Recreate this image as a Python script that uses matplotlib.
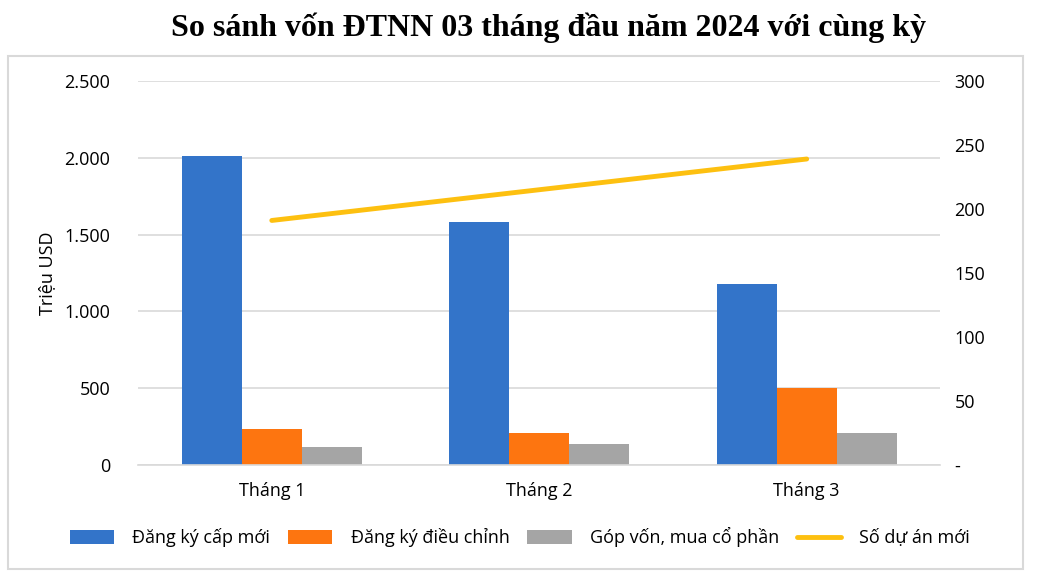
import matplotlib.pyplot as plt
from matplotlib.patches import Rectangle
from matplotlib.ticker import FuncFormatter
import numpy as np

plt.rcParams['font.family'] = ['Open Sans', 'DejaVu Sans']

months = ["Tháng 1", "Tháng 2", "Tháng 3"]
dang_ky_moi = [2010, 1580, 1178]
dieu_chinh = [234, 208, 500]
gop_von = [117, 137, 208]
so_du_an = [191, 215, 239]

fig = plt.figure(figsize=(10.38, 5.82), dpi=100)
ax = fig.add_axes([0.133, 0.201, 0.773, 0.660])

x = np.arange(len(months))
w = 0.224
ax.bar(x - w, dang_ky_moi, w, color="#3374c9", label="Đăng ký cấp mới", zorder=2)
ax.bar(x, dieu_chinh, w, color="#fd7510", label="Đăng ký điều chỉnh", zorder=2)
ax.bar(x + w, gop_von, w, color="#a5a5a5", label="Góp vốn, mua cổ phần", zorder=2)

ax.set_xlim(-0.5, 2.5)
ax.set_ylim(0, 2500)
ax.set_yticks(range(0, 2501, 500))
ax.yaxis.set_major_formatter(FuncFormatter(lambda v, p: f"{int(v):,}".replace(",", ".")))
ax.set_xticks(x)
ax.set_xticklabels(months)
ax.grid(axis="y", color="#d9d9d9", linewidth=1.2, zorder=0)
for s in ["top", "left", "right"]:
    ax.spines[s].set_visible(False)
ax.spines["bottom"].set_color("#d9d9d9")
ax.spines["bottom"].set_linewidth(1.2)
ax.tick_params(length=0, labelsize=13, pad=12)
ax.tick_params(axis="y", pad=20)
ax.set_ylabel("Triệu USD", fontsize=13, labelpad=6)

ax2 = ax.twinx()
ax2.plot(x, so_du_an, color="#fdc010", linewidth=3.5, label="Số dự án mới", solid_capstyle="round")
ax2.set_ylim(0, 300)
ax2.set_yticks(range(0, 301, 50))
ax2.yaxis.set_major_formatter(FuncFormatter(lambda v, p: "-" if v == 0 else f"{int(v)}"))
ax2.tick_params(length=0, labelsize=13, pad=10)
for s in ["top", "left", "right", "bottom"]:
    ax2.spines[s].set_visible(False)

h1, l1 = ax.get_legend_handles_labels()
h2, l2 = ax2.get_legend_handles_labels()
fig.legend(h1 + h2, l1 + l2, loc="center", bbox_to_anchor=(0.501, 0.077), ncol=4,
           frameon=False, fontsize=13, handlelength=2.45, handleheight=0.8,
           columnspacing=1.0, handletextpad=1.0)

fig.text(0.528, 0.952, "So sánh vốn ĐTNN 03 tháng đầu năm 2024 với cùng kỳ",
         ha="center", va="center", fontsize=23, fontweight="bold", family="Liberation Serif")

fig.patches.append(Rectangle((0.008, 0.022), 0.978, 0.882, transform=fig.transFigure,
                             fill=False, edgecolor="#d9d9d9", linewidth=1.5))

fig.savefig("out.png", dpi=100)
